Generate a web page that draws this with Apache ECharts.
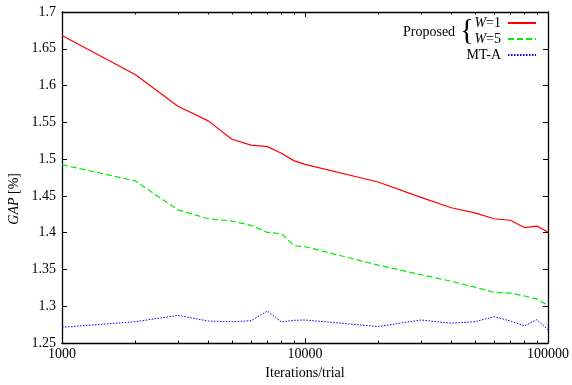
<!DOCTYPE html>
<html>
<head>
<meta charset="utf-8">
<script src="https://cdn.jsdelivr.net/npm/echarts@6/dist/echarts.min.js"></script>
<style>html,body{margin:0;padding:0;background:#fff}#c{width:572px;height:385px}</style>
</head>
<body>
<div id="c"></div>
<script>
const iterations = [1000,2000,3000,4000,5000,6000,7000,8000,9000,10000,20000,30000,40000,50000,60000,70000,80000,90000,100000];
const gapW1 = [1.668,1.615,1.572,1.552,1.527,1.519,1.517,1.508,1.498,1.493,1.469,1.448,1.434,1.427,1.419,1.417,1.407,1.409,1.401];
const gapW5 = [1.4925,1.4705,1.431,1.419,1.416,1.410,1.4005,1.3986,1.3825,1.381,1.356,1.343,1.334,1.326,1.319,1.318,1.314,1.310,1.301];
const gapMTA = [1.2715,1.279,1.2877,1.280,1.279,1.2805,1.2935,1.2787,1.281,1.2814,1.2725,1.2814,1.277,1.279,1.2859,1.280,1.2733,1.2819,1.268];
const xMajorTicks = [1000,10000,100000];
const xMinorTicks = [2000,3000,4000,5000,6000,7000,8000,9000,20000,30000,40000,50000,60000,70000,80000,90000];
const seriesNames = ['W=1','W=5','MT-A'];
const xTitle = 'Iterations/trial';

const font = 'Liberation Serif';
const pair = (arr) => iterations.map((x,i)=>[x,arr[i]]);
const axisLine = {show:true, lineStyle:{color:'#000', width:1.3}};
function xAx(pos, minor, labels){
  return {
    type:'log', logBase:10, min:1000, max:100000, position:pos,
    axisLine: minor ? {show:false} : axisLine,
    axisTick:{show:true, inside:true, length: minor?2.5:5, lineStyle:{color:'#000',width:1}, customValues: minor?xMinorTicks:xMajorTicks},
    axisLabel:{show:labels, color:'#000', fontFamily:font, fontSize:14, margin:4, formatter:v=>String(v), customValues:xMajorTicks},
    splitLine:{show:false}, minorTick:{show:false},
    name: labels?xTitle:'', nameLocation:'middle', nameGap:20,
    nameTextStyle:{color:'#000', fontFamily:font, fontSize:14}
  };
}
function yAx(pos, labels){
  return {
    type:'value', min:1.25, max:1.7, interval:0.05, position:pos,
    axisLine: axisLine,
    axisTick:{show:true, inside:true, length:5, lineStyle:{color:'#000',width:1}},
    axisLabel:{show:labels, color:'#000', fontFamily:font, fontSize:14, margin:6},
    splitLine:{show:false}
  };
}
const chart = echarts.init(document.getElementById('c'), null, {renderer:'canvas'});
chart.setOption({
  animation:false,
  backgroundColor:'#fff',
  grid:{left:62, top:12, right:23, bottom:39, containLabel:false},
  xAxis:[xAx('bottom',false,true), xAx('bottom',true,false), xAx('top',false,false), xAx('top',true,false)],
  yAxis:[yAx('left',true), yAx('right',false)],
  legend:{
    orient:'vertical', right:35, top:16, align:'right', padding:0,
    itemWidth:28, itemHeight:14, itemGap:2,
    itemStyle:{opacity:0},
    data: seriesNames,
    textStyle:{color:'#000', fontFamily:font, fontSize:14, padding:[0,2,0,0],
      rich:{i:{fontStyle:'italic', fontFamily:font, fontSize:14, color:'#000'}, n:{fontFamily:font, fontSize:14, color:'#000'}}},
    formatter: n => n.startsWith('W') ? '{i|W}{n|' + n.slice(1) + '}' : n
  },
  graphic:[
    {type:'text', left:403, top:25, style:{text:'Proposed', font:'14px "Liberation Serif"', fill:'#000'}},
    {type:'text', left:460, top:17, style:{text:'{', font:'29px "Liberation Serif"', fill:'#000'}},
    {type:'text', left:7, top:173, rotation:Math.PI/2, style:{text:'{i|GAP} [%]', font:'14px "Liberation Serif"', fill:'#000', align:'center', verticalAlign:'middle',
      rich:{i:{fontStyle:'italic', fontFamily:font, fontSize:14}}}}
  ],
  series:[
    {name:seriesNames[0], type:'line', symbol:'none', data:pair(gapW1), lineStyle:{color:'#ff0000', width:1.2}, itemStyle:{color:'#ff0000'}},
    {name:seriesNames[1], type:'line', symbol:'none', data:pair(gapW5), lineStyle:{color:'#00ee00', width:1.2, type:[6,3]}, itemStyle:{color:'#00ee00'}},
    {name:seriesNames[2], type:'line', symbol:'none', data:pair(gapMTA), lineStyle:{color:'#0000ff', width:1, type:[1.5,1.5]}, itemStyle:{color:'#0000ff'}}
  ]
});
</script>
</body>
</html>
